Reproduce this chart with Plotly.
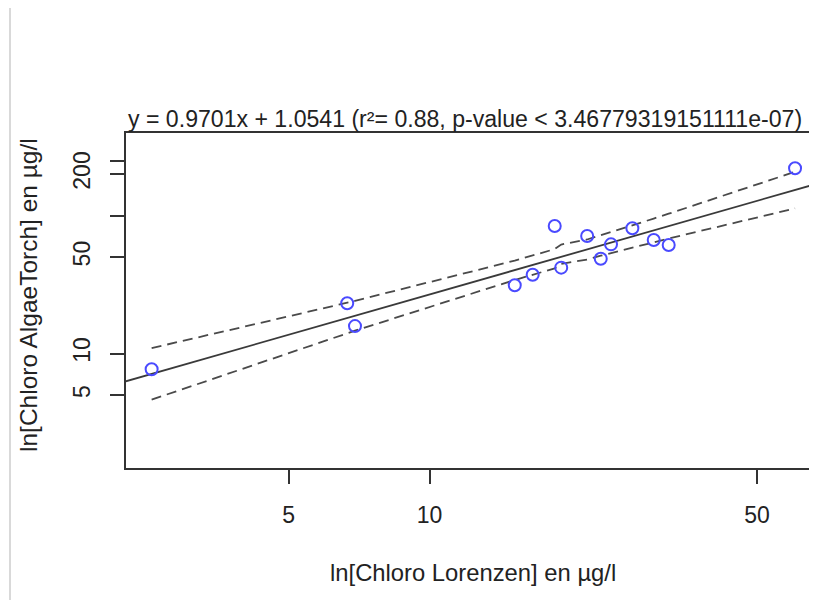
import plotly.graph_objects as go
import numpy as np

# Data
chl_lorenzen = [2.55, 6.67, 6.93, 60.3, 18.5, 21.7, 27.1, 24.4, 30.1, 32.4, 23.2, 19.1, 16.6, 15.2]
chl_algaetorch = [7.68, 23.1, 15.8, 219.8, 84.0, 71.0, 80.8, 61.8, 66.5, 61.1, 48.6, 41.9, 37.2, 31.2]

# Regression coefficients (ln-ln model) from the title
slope = 0.9701
intercept = 1.0541
line_x_span = [2.246, 67.2]

# Confidence band (read at sorted x positions)
band_x = [2.55, 6.67, 6.93, 15.2, 16.6, 18.5, 19.1, 21.7, 23.2, 24.4, 27.1, 30.1, 32.4, 60.3]
band_upper = [10.94, 23.34, 24.06, 47.1, 51.4, 57.1, 61.6, 67.0, 72.0, 75.8, 84.6, 95.0, 103.0, 207.4]
band_lower = [4.63, 14.01, 14.63, 34.1, 37.3, 41.4, 44.6, 48.0, 51.1, 53.4, 58.4, 64.0, 68.1, 112.6]

x_ticks = [5, 10, 50]
x_ticktext = ["5", "10", "50"]
y_ticks = [5, 10, 50, 100, 200, 250]
y_ticktext = ["5", "10", "50", "", "200", ""]

title_text = "y = 0.9701x + 1.0541 (r²= 0.88, p-value < 3.46779319151111e-07)"
x_title = "ln[Chloro Lorenzen] en µg/l"
y_title = "ln[Chloro AlgaeTorch] en µg/l"

FONT = "Liberation Sans, Arial, sans-serif"
TXT = "#222222"

fx = np.exp(np.linspace(np.log(line_x_span[0]), np.log(line_x_span[1]), 50))
fy = np.exp(slope * np.log(fx) + intercept)

fig = go.Figure()
fig.add_trace(go.Scatter(x=fx, y=fy, mode="lines",
                         line=dict(color="#3a3a3a", width=1.8), hoverinfo="skip"))
fig.add_trace(go.Scatter(x=band_x, y=band_upper, mode="lines",
                         line=dict(color="#4a4a4a", width=1.8, dash="10px,6px")))
fig.add_trace(go.Scatter(x=band_x, y=band_lower, mode="lines",
                         line=dict(color="#4a4a4a", width=1.8, dash="10px,6px")))
fig.add_trace(go.Scatter(x=chl_lorenzen, y=chl_algaetorch, mode="markers",
                         marker=dict(symbol="circle-open", size=12,
                                     color="#4a4aff", line=dict(width=2, color="#4a4aff"))))

# The page body adds an 8px margin; layout below is expressed in window pixels.
OFF = 8
W, H = 817 - 2 * OFF, 608 - 2 * OFF
ml, mr, mt = 126 - OFF, 0, 133 - OFF
mb = (H + OFF) - 468
pw, ph = W - ml - mr, H - mt - mb

def px2paper_x(p):
    return (p - OFF - ml) / pw

def px2paper_y(p):
    return (H - mb - (p - OFF)) / ph

fig.update_layout(
    width=W, height=H,
    margin=dict(l=ml, r=mr, t=mt, b=mb),
    paper_bgcolor="white", plot_bgcolor="white",
    showlegend=False,
    font=dict(family=FONT, size=23, color=TXT),
    xaxis=dict(type="log", range=[0.3518, 1.8101],
               tickvals=x_ticks, ticktext=x_ticktext,
               showgrid=False, zeroline=False,
               showline=True, linecolor="#333333", linewidth=2, mirror=True,
               ticks="outside", ticklen=14, tickwidth=1.5, tickcolor="#333333",
               ticklabelstandoff=11,
               tickfont=dict(family=FONT, size=23, color=TXT)),
    yaxis=dict(type="log", range=[0.1703, 2.5978],
               tickvals=y_ticks, ticktext=y_ticktext,
               showgrid=False, zeroline=False,
               showline=True, linecolor="#333333", linewidth=2, mirror=False,
               ticks="outside", ticklen=14, tickwidth=1.5, tickcolor="#333333",
               tickangle=-90, ticklabelstandoff=11,
               tickfont=dict(family=FONT, size=23, color=TXT)),
    annotations=[
        dict(text=title_text, xref="paper", yref="paper",
             x=px2paper_x(126), y=px2paper_y(134), xanchor="left", yanchor="bottom",
             showarrow=False, font=dict(family=FONT, size=23.1, color=TXT)),
        dict(text=x_title, xref="paper", yref="paper",
             x=px2paper_x(473.5), y=px2paper_y(572), xanchor="center", yanchor="middle",
             showarrow=False, font=dict(family=FONT, size=23.8, color=TXT)),
        dict(text=y_title, xref="paper", yref="paper", textangle=-90,
             x=px2paper_x(28), y=px2paper_y(295), xanchor="center", yanchor="middle",
             showarrow=False, font=dict(family=FONT, size=24.5, color=TXT)),
    ],
    shapes=[
        dict(type="line", xref="paper", yref="paper",
             x0=px2paper_x(10), x1=px2paper_x(10), y0=px2paper_y(8), y1=px2paper_y(600),
             line=dict(color="#d9d9d9", width=2)),
    ],
)

fig.write_html("out.html")
